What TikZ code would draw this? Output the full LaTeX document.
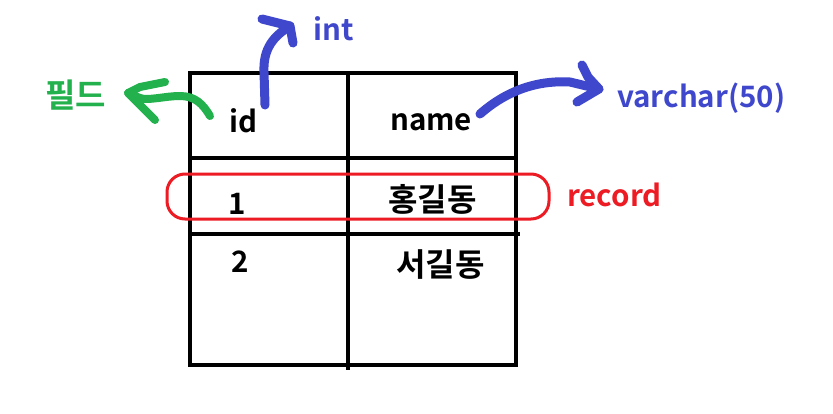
\documentclass[tikz,border=0pt]{standalone}
\usepackage{fontspec}
\setmainfont{Noto Sans CJK KR}[BoldFont={* Bold}]
\definecolor{pblue}{HTML}{3F48CC}
\definecolor{pgreen}{HTML}{22B14C}
\definecolor{pred}{HTML}{ED1C24}
\begin{document}
\begin{tikzpicture}[x=1pt,y=-1pt,
  grid/.style={line width=4pt,black},
  cell/.style={anchor=base west,inner sep=0pt,font=\fontsize{29.5}{32}\selectfont\bfseries},
  hcell/.style={cell,font=\fontsize{32}{34}\selectfont\bfseries},
  lab/.style={anchor=base west,inner sep=0pt,font=\fontsize{29.5}{32}\selectfont\bfseries},
  pen/.style={line width=9pt,line cap=round,line join=round}]
\useasboundingbox[fill=white] (0,0) rectangle (833,413);
% table
\draw[grid] (190,73) rectangle (516,365);
\draw[grid] (348,73) -- (348,370);
\draw[grid] (188,158) -- (516,158);
\draw[grid] (190,234) -- (520,234);
% cells
\node[cell] (id) at (229,132) {id};
\node[cell] (name) at (390,130) {name};
\node[cell] (r1) at (228,214) {1};
\node[hcell] (hong) at (388,211) {홍길동};
\node[cell] (r2) at (231,272) {2};
\node[hcell] (seo) at (396,276) {서길동};
% labels
\node[lab,text=pblue] (int) at (313,40) {int};
\node[lab,text=pblue] (vc) at (617,107) {varchar(50)};
\node[lab,text=pgreen,font=\fontsize{33}{36}\selectfont\bfseries] (field) at (45,107) {필드};
\node[lab,text=pred] (rec) at (567,206) {record};
% record outline
\draw[pred,line width=3pt,rounded corners=18pt] (167,174) rectangle (549,219);
% arrows
\coordinate (a1) at (265,105);
\coordinate (t1) at (290,26);
\draw[pen,pblue] (a1) -- (264,72) .. controls (263,48) and (274,36) .. (t1);
\draw[pen,pblue] (262,19) -- (t1) -- (293,43);
\coordinate (a2) at (480,114);
\coordinate (t2) at (599,89);
\draw[pen,pblue] (a2) .. controls (505,92) and (535,80) .. (570,82) -- (t2);
\draw[pen,pblue] (582,65) -- (588,77) -- (t2) -- (577,102);
\coordinate (a3) at (210,116);
\coordinate (t3) at (128,93);
\draw[pen,pgreen,line width=8pt] (a3) .. controls (203,104) and (195,96) .. (180,96) .. controls (165,96) and (148,101) .. (140,98) -- (t3);
\draw[pen,pgreen,line width=8pt] (165,82) -- (140,87) -- (t3) -- (155,120);
\end{tikzpicture}
\end{document}
